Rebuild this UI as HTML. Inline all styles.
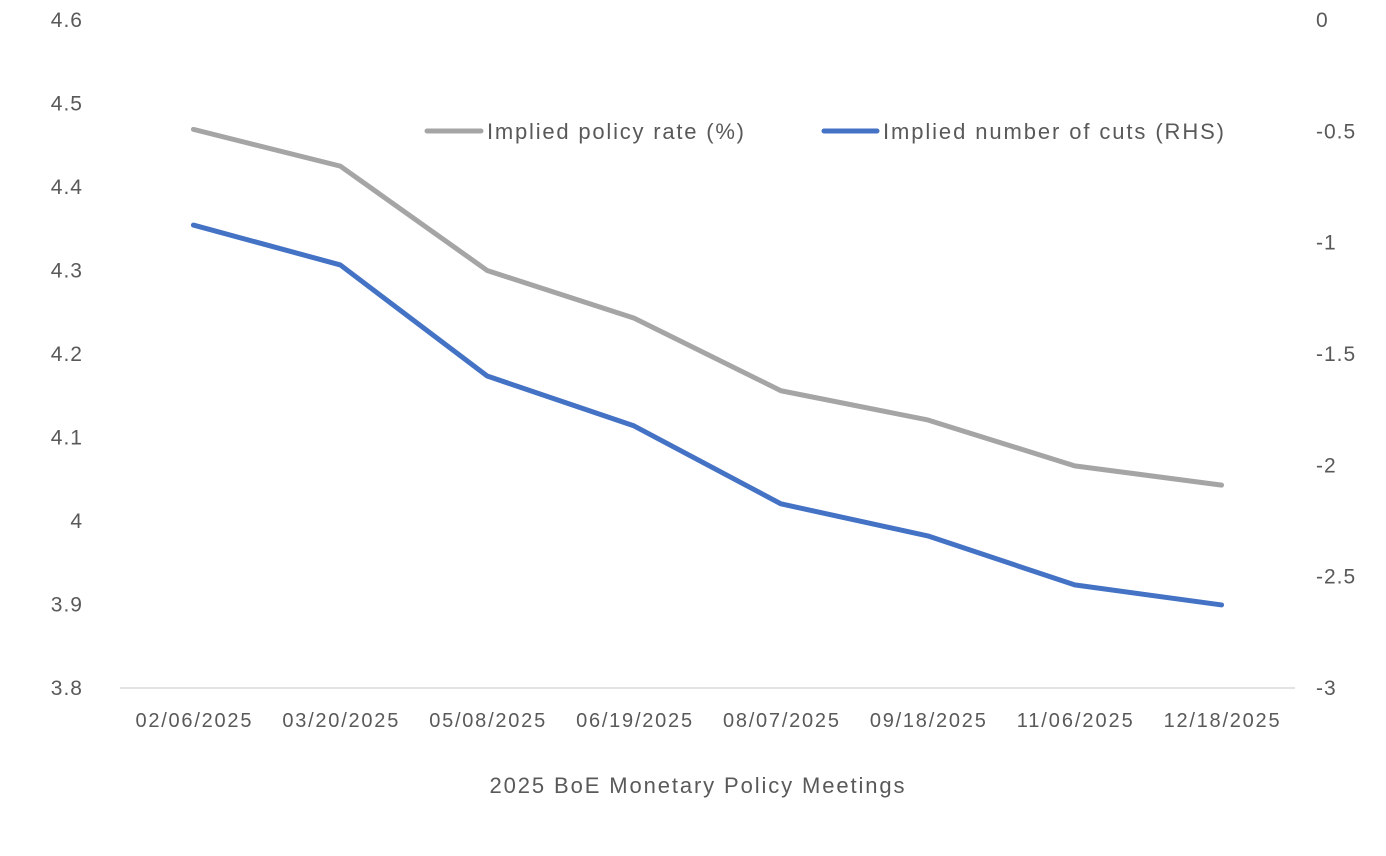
<!DOCTYPE html>
<html><head><meta charset="utf-8"><style>
body{margin:0;background:#fff;}
svg{display:block;font-family:"Liberation Sans",sans-serif;}
</style></head><body>
<svg id="chart" width="1386" height="856"></svg>
<script>
const categories=["02/06/2025","03/20/2025","05/08/2025","06/19/2025","08/07/2025","09/18/2025","11/06/2025","12/18/2025"];
const policyRate=[4.469,4.425,4.30,4.243,4.156,4.121,4.066,4.043];
const cuts=[-0.921,-1.10,-1.599,-1.823,-2.173,-2.317,-2.537,-2.627];
const leftTicks=["3.8","3.9","4","4.1","4.2","4.3","4.4","4.5","4.6"];
const rightTicks=["-3","-2.5","-2","-1.5","-1","-0.5","0"];
const NS="http://www.w3.org/2000/svg";
const svg=document.getElementById("chart");
const x0=120,x1=1295,yTop=20,yBot=688;
const xs=i=>x0+(x1-x0)/categories.length*(i+0.5);
const yL=v=>yBot-(v-3.8)/(0.8)*(yBot-yTop);
const yR=v=>yBot-(v+3)/3*(yBot-yTop);
function el(t,a){const e=document.createElementNS(NS,t);for(const k in a)e.setAttribute(k,a[k]);svg.appendChild(e);return e;}
const ax=el("line",{x1:x0,x2:x1,y1:yBot,y2:yBot,stroke:"#d9d9d9","stroke-width":1.5});


leftTicks.forEach(t=>{const e=el("text",{x:83,y:yL(+t)+7,"text-anchor":"end","font-size":21,fill:"#595959","letter-spacing":"1"});e.textContent=t;

});
rightTicks.forEach(t=>{const e=el("text",{x:1316,y:yR(+t)+7,"font-size":21,fill:"#595959","letter-spacing":"1"});e.textContent=t;

});
categories.forEach((c,i)=>{const e=el("text",{x:xs(i),y:727,"text-anchor":"middle","font-size":20,fill:"#595959",textLength:116,lengthAdjust:"spacing"});e.textContent=c;

});
const tt=el("text",{x:697,y:793,"text-anchor":"middle","font-size":22,fill:"#595959",textLength:415,lengthAdjust:"spacing"});tt.textContent="2025 BoE Monetary Policy Meetings";


const p1=el("polyline",{points:policyRate.map((v,i)=>xs(i)+","+yL(v)).join(" "),fill:"none",stroke:"#a5a5a5","stroke-width":5,"stroke-linejoin":"round","stroke-linecap":"round"});


const p2=el("polyline",{points:cuts.map((v,i)=>xs(i)+","+yR(v)).join(" "),fill:"none",stroke:"#4472c4","stroke-width":5,"stroke-linejoin":"round","stroke-linecap":"round"});


const l1=el("line",{x1:427,x2:481,y1:131,y2:131,stroke:"#a5a5a5","stroke-width":5,"stroke-linecap":"round"});


const t1=el("text",{x:487,y:139,"font-size":22,fill:"#595959",textLength:257,lengthAdjust:"spacing"});t1.textContent="Implied policy rate (%)";


const l2=el("line",{x1:824,x2:877,y1:131,y2:131,stroke:"#4472c4","stroke-width":5,"stroke-linecap":"round"});


const t2=el("text",{x:883,y:139,"font-size":22,fill:"#595959",textLength:341,lengthAdjust:"spacing"});t2.textContent="Implied number of cuts (RHS)";


</script>
</body></html>
